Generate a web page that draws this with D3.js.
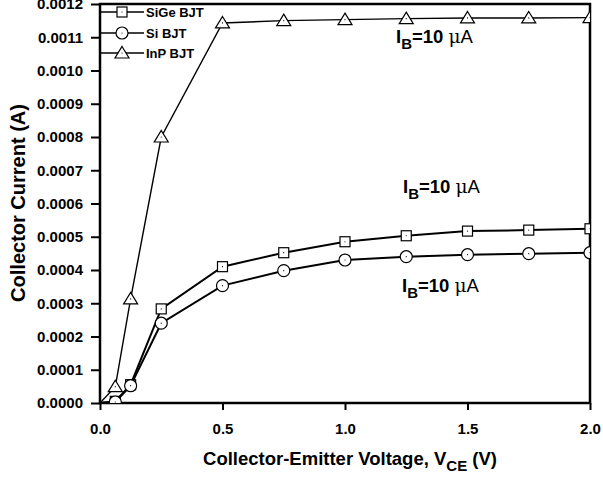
<!DOCTYPE html>
<html>
<head>
<meta charset="utf-8">
<script src="https://cdn.jsdelivr.net/npm/d3@7"></script>
<style>
  body { margin: 0; background: white; }
  text { font-family: "Liberation Sans", Arial, sans-serif; font-weight: bold; }
</style>
</head>
<body>
<div id="container"></div>
<script>
// x values (V) shared by all series
let vce = [0, 0.0625, 0.125, 0.25, 0.5, 0.75, 1.0, 1.25, 1.5, 1.75, 2.0];

let sigeVals = [0, 0.000005, 0.000055, 0.000283, 0.00041, 0.000452, 0.000485, 0.000503, 0.000517, 0.00052, 0.000524];
let siVals   = [0, 0.000003, 0.000052, 0.00024, 0.000353, 0.000398, 0.00043, 0.00044, 0.000446, 0.000449, 0.000452];
let inpVals  = [0, 0.000049, 0.000313, 0.0008, 0.001143, 0.00115, 0.001153, 0.001156, 0.001158, 0.001158, 0.001159];

let seriesNames = ["SiGe BJT", "Si BJT", "InP BJT"];
let seriesShapes = ["square", "circle", "triangle"];

let xTicks = [0, 0.5, 1.0, 1.5, 2.0];
let yTicks = [0, 0.0001, 0.0002, 0.0003, 0.0004, 0.0005, 0.0006, 0.0007, 0.0008, 0.0009, 0.0010, 0.0011, 0.0012];

let w = 603;
let h = 477;

let viz = d3.select("#container")
  .append("svg")
    .attr("width", w)
    .attr("height", h)
    .style("background-color", "white")
;

let xScale = d3.scaleLinear().domain([0, 2]).range([100, 590]);
let yScale = d3.scaleLinear().domain([0, 0.0012]).range([403, 4]);

let clipId = "plotclip";
viz.append("clipPath").attr("id", clipId)
  .append("rect")
    .attr("x", 100).attr("y", 4).attr("width", 490).attr("height", 399);

// axes
let xAxis = d3.axisBottom(xScale).tickValues(xTicks).tickFormat(d3.format(".1f")).tickSize(7).tickPadding(13);
let yAxis = d3.axisLeft(yScale).tickValues(yTicks).tickFormat(d3.format(".4f")).tickSize(9).tickPadding(8);

let gx = viz.append("g").attr("transform", "translate(0,403)").call(xAxis);
let gy = viz.append("g").attr("transform", "translate(100,0)").call(yAxis);

[gx, gy].forEach(function(g){
  g.attr("font-size", 15).attr("font-family", "Liberation Sans, Arial, sans-serif");
  g.select(".domain").remove();
  g.selectAll(".tick line").attr("stroke", "black").attr("stroke-width", 2);
  g.selectAll(".tick text").attr("fill", "black").style("font-size", "15px").style("font-weight", "bold");
});

// frame
viz.append("rect")
  .attr("x", xScale(0)).attr("y", yScale(0.0012))
  .attr("width", xScale(2) - xScale(0)).attr("height", yScale(0) - yScale(0.0012))
  .attr("fill", "none").attr("stroke", "black").attr("stroke-width", 2.5);

// series
let seriesData = [sigeVals, siVals, inpVals].map(function(vals, i){
  return { name: seriesNames[i], shape: seriesShapes[i], points: vals.map(function(v, j){ return { x: vce[j], y: v }; }) };
});

let line = d3.line().x(function(d){ return xScale(d.x); }).y(function(d){ return yScale(d.y); });

function drawMarker(g, shape){
  if (shape == "square") {
    g.append("rect").attr("x", -5).attr("y", -5).attr("width", 10).attr("height", 10)
      .attr("fill", "white").attr("stroke", "black").attr("stroke-width", 1.2);
  } else if (shape == "circle") {
    g.append("circle").attr("r", 6)
      .attr("fill", "white").attr("stroke", "black").attr("stroke-width", 1.2);
  } else {
    g.append("path").attr("d", "M0,-6.5L7,5L-7,5Z")
      .attr("fill", "white").attr("stroke", "black").attr("stroke-width", 1.2);
  }
  g.append("circle").attr("r", 0.6).attr("fill", "black");
}

let plot = viz.append("g").attr("clip-path", "url(#" + clipId + ")");

let groups = plot.selectAll(".series").data(seriesData).enter()
  .append("g").classed("series", true);

groups.append("path")
  .attr("d", function(d){ return line(d.points); })
  .attr("fill", "none")
  .attr("stroke", "black")
  .attr("stroke-width", function(d){ return d.shape == "triangle" ? 1.4 : 2; });

groups.each(function(d){
  let g = d3.select(this);
  d.points.forEach(function(p, j){
    if (j == 0) return;
    let m = g.append("g").attr("transform", "translate(" + xScale(p.x) + "," + yScale(p.y) + ")");
    drawMarker(m, d.shape);
  });
});

// legend
let legendY = [12, 33, 53];
seriesData.forEach(function(d, i){
  let lg = viz.append("g").attr("transform", "translate(101," + legendY[i] + ")");
  lg.append("line").attr("x1", 0).attr("x2", 43).attr("y1", 0).attr("y2", 0)
    .attr("stroke", "black").attr("stroke-width", 1.5);
  let m = lg.append("g").attr("transform", "translate(21,0)");
  drawMarker(m, d.shape);
  lg.append("text").text(d.name).attr("x", 45).attr("y", 5)
    .style("font-size", "13px").attr("fill", "black");
});

// annotations
let notes = [[396, 43], [403, 193], [402, 292]];
notes.forEach(function(n){
  let t = viz.append("text").attr("x", n[0]).attr("y", n[1]).style("font-size", "18.5px").attr("fill", "black");
  t.append("tspan").text("I");
  t.append("tspan").text("B").attr("dy", 6).style("font-size", "15px");
  t.append("tspan").text("=10 ").attr("dy", -6);
  t.append("tspan").text("μ").style("font-weight", "normal").style("font-family", "'DejaVu Serif', serif");
  t.append("tspan").text("A").style("font-weight", "normal");
});

// axis titles
let xt = viz.append("text").attr("x", 350).attr("y", 465).attr("text-anchor", "middle")
  .style("font-size", "18.5px").attr("fill", "black");
xt.append("tspan").text("Collector-Emitter Voltage, V");
xt.append("tspan").text("CE").attr("dy", 6).style("font-size", "15px");
xt.append("tspan").text(" (V)").attr("dy", -6);

viz.append("text").text("Collector Current (A)")
  .attr("text-anchor", "middle")
  .attr("transform", "translate(25,203) rotate(-90)")
  .style("font-size", "20px").attr("fill", "black");
</script>
</body>
</html>
